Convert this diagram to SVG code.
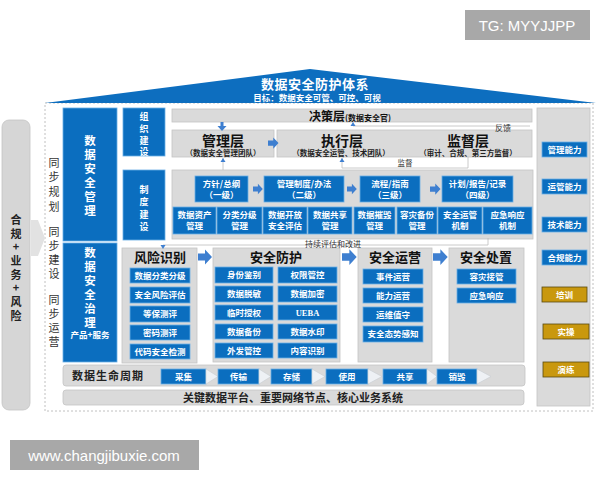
<svg xmlns="http://www.w3.org/2000/svg" width="600" height="480" viewBox="0 0 600 480">
<style>
text{font-family:"Noto Sans CJK SC","Liberation Sans",sans-serif;}
.b{fill:#0b6ebf;stroke:#6aaee6;stroke-width:0.8;}
.g{fill:#dadada;stroke:#c4c4c4;stroke-width:0.8;}
.gold{fill:#c9980e;stroke:#5a4a10;stroke-width:0.8;}
.w{fill:#fff;font-size:8.5px;font-weight:bold;text-anchor:middle;}
.wv{fill:#fff;font-size:11.5px;font-weight:bold;text-anchor:middle;}
.ws{fill:#fff;font-size:9px;font-weight:bold;text-anchor:middle;}
.h{fill:#111;font-size:13px;font-weight:bold;text-anchor:middle;}
.hl{fill:#111;font-size:14px;font-weight:bold;text-anchor:middle;}
.sub{fill:#222;font-size:7.5px;font-weight:bold;text-anchor:middle;}
.k{fill:#222;font-weight:bold;text-anchor:middle;}
.ba{fill:#3e7fd0;}
.thin{fill:none;stroke:#bdbdbd;stroke-width:0.8;}
.chev{fill:#eef1f5;stroke:#c8ccd2;stroke-width:0.6;}
</style>
<defs>
<path id="arr" d="M0,-3.5 H7 V-7.5 L14,0 L7,7.5 V3.5 H0 Z"/>
<path id="tri" d="M-2.5,2 L0,-2 L2.5,2 Z" fill="#3e7fd0"/>
</defs>
<rect width="600" height="480" fill="#fff"/>

<!-- watermarks -->
<g id="wm1"><rect x="465" y="10" width="125" height="30" fill="#a8a8a8"/><text x="527" y="31" fill="#fff" font-size="15" text-anchor="middle" style="font-family:'Liberation Sans',sans-serif">TG: MYYJJPP</text></g>
<g id="wm2"><rect x="10" y="440" width="189" height="30" fill="#a8a8a8"/><text x="104" y="461" fill="#fff" font-size="15" text-anchor="middle" style="font-family:'Liberation Sans',sans-serif">www.changjibuxie.com</text></g>

<!-- frame -->
<rect x="45" y="103" width="548" height="308" fill="none" stroke="#b0b0b0" stroke-width="0.8" stroke-dasharray="2,2"/>

<!-- roof -->
<g id="roof">
<polygon points="45,103 310,69 596,103" fill="#0d6ebf"/>
<text x="315" y="89" fill="#fff" font-size="13" font-weight="bold" text-anchor="middle" letter-spacing="0.5">数据安全防护体系</text>
<text x="317" y="101" fill="#fff" font-size="8.5" font-weight="bold" text-anchor="middle">目标：数据安全可管、可控、可视</text>
</g>

<!-- left compliance -->
<g id="compliance">
<rect x="2" y="120" width="28" height="290" rx="7" fill="#d6d6d6" stroke="#c4c4c4" stroke-width="0.8"/>
<text class="k" font-size="11" x="16"><tspan x="16" y="224">合</tspan><tspan x="16" y="238">规</tspan><tspan x="16" y="251">+</tspan><tspan x="16" y="265">业</tspan><tspan x="16" y="279">务</tspan><tspan x="16" y="292">+</tspan><tspan x="16" y="306">风</tspan><tspan x="16" y="320">险</tspan></text>
<polygon points="31,220 38,220 45,238 38,256 31,256" fill="#e2e2e2"/>
</g>

<!-- sync labels -->
<g id="sync" fill="#333" font-size="11">
<text x="54" text-anchor="middle"><tspan x="54" y="167">同</tspan><tspan x="54" y="181">步</tspan><tspan x="54" y="196">规</tspan><tspan x="54" y="211">划</tspan></text>
<text x="54" text-anchor="middle"><tspan x="54" y="236">同</tspan><tspan x="54" y="250">步</tspan><tspan x="54" y="264">建</tspan><tspan x="54" y="278">设</tspan></text>
<text x="54" text-anchor="middle"><tspan x="54" y="304">同</tspan><tspan x="54" y="318">步</tspan><tspan x="54" y="332">运</tspan><tspan x="54" y="346">营</tspan></text>
</g>

<!-- left blue columns -->
<g id="mgmt">
<rect class="b" x="63" y="108" width="54" height="133"/>
<text class="wv" x="90"><tspan x="90" y="145">数</tspan><tspan x="90" y="159">据</tspan><tspan x="90" y="173">安</tspan><tspan x="90" y="187">全</tspan><tspan x="90" y="201">管</tspan><tspan x="90" y="215">理</tspan></text>
</g>
<g id="gov">
<rect class="b" x="63" y="243" width="54" height="119"/>
<text class="wv" x="90"><tspan x="90" y="257">数</tspan><tspan x="90" y="271">据</tspan><tspan x="90" y="285">安</tspan><tspan x="90" y="299">全</tspan><tspan x="90" y="313">治</tspan><tspan x="90" y="327">理</tspan></text>
<text class="w" x="90" y="338">产品+服务</text>
</g>

<g id="org">
<rect class="b" x="123" y="108" width="42" height="48"/>
<text class="ws" x="144"><tspan x="144" y="120">组</tspan><tspan x="144" y="132">织</tspan><tspan x="144" y="144">建</tspan><tspan x="144" y="155">设</tspan></text>
</g>
<g id="sys">
<rect class="b" x="123" y="170" width="42" height="70"/>
<text class="ws" x="144"><tspan x="144" y="193">制</tspan><tspan x="144" y="205">度</tspan><tspan x="144" y="218">建</tspan><tspan x="144" y="230">设</tspan></text>
</g>

<!-- decision layers -->
<g id="decision">
<rect class="g" x="172" y="109" width="360" height="13"/>
<text x="350" y="120.5" text-anchor="middle" fill="#111" font-weight="bold"><tspan font-size="12">决策层</tspan><tspan font-size="8">(数据安全官)</tspan></text>
</g>
<g id="mgmtlayer">
<rect class="g" x="172" y="130" width="102" height="27"/>
<text class="hl" x="223" y="146">管理层</text>
<text class="sub" x="223" y="155.5">（数据安全管理团队）</text>
</g>
<g id="execlayer">
<rect class="g" x="277" y="130" width="255" height="27"/>
<text class="hl" x="342" y="146">执行层</text>
<text class="sub" x="341" y="155.5">（数据安全运管、技术团队）</text>
</g>
<g id="suplayer">
<text class="hl" x="468" y="146">监督层</text>
<text class="sub" x="468" y="155.5">（审计、合规、第三方监督）</text>
</g>

<!-- policy panel -->
<g id="policy">
<rect class="g" x="172" y="170" width="361" height="69"/>
<rect class="b" x="195" y="176" width="53" height="26"/>
<text class="w"><tspan x="221.5" y="187">方针/总纲</tspan><tspan x="221.5" y="198">（一级）</tspan></text>
<rect class="b" x="264" y="176" width="80" height="26"/>
<text class="w"><tspan x="304" y="187">管理制度/办法</tspan><tspan x="304" y="198">（二级）</tspan></text>
<rect class="b" x="360" y="176" width="60" height="26"/>
<text class="w"><tspan x="390" y="187">流程/指南</tspan><tspan x="390" y="198">（三级）</tspan></text>
<rect class="b" x="442" y="176" width="71" height="26"/>
<text class="w"><tspan x="477.5" y="187">计划/报告/记录</tspan><tspan x="477.5" y="198">（四级）</tspan></text>
<rect class="b" x="173" y="207" width="43" height="27"/>
<text class="w"><tspan x="194.5" y="218">数据资产</tspan><tspan x="194.5" y="229">管理</tspan></text>
<rect class="b" x="217" y="207" width="45" height="27"/>
<text class="w"><tspan x="239.5" y="218">分类分级</tspan><tspan x="239.5" y="229">管理</tspan></text>
<rect class="b" x="263" y="207" width="44" height="27"/>
<text class="w"><tspan x="285" y="218">数据开放</tspan><tspan x="285" y="229">安全评估</tspan></text>
<rect class="b" x="308" y="207" width="44" height="27"/>
<text class="w"><tspan x="330" y="218">数据共享</tspan><tspan x="330" y="229">管理</tspan></text>
<rect class="b" x="354" y="207" width="41" height="27"/>
<text class="w"><tspan x="374.5" y="218">数据摧毁</tspan><tspan x="374.5" y="229">管理</tspan></text>
<rect class="b" x="397" y="207" width="40" height="27"/>
<text class="w"><tspan x="417" y="218">容灾备份</tspan><tspan x="417" y="229">管理</tspan></text>
<rect class="b" x="438" y="207" width="44" height="27"/>
<text class="w"><tspan x="460" y="218">安全运管</tspan><tspan x="460" y="229">机制</tspan></text>
<rect class="b" x="483" y="207" width="49" height="27"/>
<text class="w"><tspan x="507.5" y="218">应急响应</tspan><tspan x="507.5" y="229">机制</tspan></text>
</g>

<!-- 风险识别 -->
<g id="risk">
<rect class="g" x="122" y="248" width="75" height="115"/>
<text class="h" x="160" y="262">风险识别</text>
<rect class="b" x="130" y="268" width="60" height="15"/><text class="w" x="160" y="279">数据分类分级</text>
<rect class="b" x="130" y="287" width="60" height="16"/><text class="w" x="160" y="298">安全风险评估</text>
<rect class="b" x="130" y="306" width="60" height="16"/><text class="w" x="160" y="317">等保测评</text>
<rect class="b" x="130" y="325" width="60" height="15"/><text class="w" x="160" y="336">密码测评</text>
<rect class="b" x="130" y="344" width="60" height="15"/><text class="w" x="160" y="355">代码安全检测</text>
</g>

<!-- 安全防护 -->
<g id="protect">
<rect class="g" x="213" y="248" width="127" height="114"/>
<text class="h" x="276" y="262">安全防护</text>
<rect class="b" x="215" y="267" width="58" height="16"/><text class="w" x="244" y="278">身份鉴别</text>
<rect class="b" x="278" y="267" width="59" height="16"/><text class="w" x="307.5" y="278">权限管控</text>
<rect class="b" x="215" y="286" width="58" height="16"/><text class="w" x="244" y="297">数据脱敏</text>
<rect class="b" x="278" y="286" width="59" height="16"/><text class="w" x="307.5" y="297">数据加密</text>
<rect class="b" x="215" y="305" width="58" height="15"/><text class="w" x="244" y="316">临时授权</text>
<rect class="b" x="278" y="305" width="59" height="15"/><text class="w" x="307.5" y="316" style="font-family:'Liberation Serif',serif">UEBA</text>
<rect class="b" x="215" y="324" width="58" height="15"/><text class="w" x="244" y="335">数据备份</text>
<rect class="b" x="278" y="324" width="59" height="15"/><text class="w" x="307.5" y="335">数据水印</text>
<rect class="b" x="215" y="343" width="58" height="15"/><text class="w" x="244" y="354">外发管控</text>
<rect class="b" x="278" y="343" width="59" height="15"/><text class="w" x="307.5" y="354">内容识别</text>
</g>

<!-- 安全运营 -->
<g id="ops">
<rect class="g" x="358" y="248" width="74" height="114"/>
<text class="h" x="395" y="262">安全运营</text>
<rect class="b" x="363" y="269" width="60" height="15"/><text class="w" x="393" y="280">事件运营</text>
<rect class="b" x="363" y="288" width="60" height="15"/><text class="w" x="393" y="299">能力运营</text>
<rect class="b" x="363" y="307" width="60" height="15"/><text class="w" x="393" y="318">运维值守</text>
<rect class="b" x="363" y="326" width="60" height="16"/><text class="w" x="393" y="337">安全态势感知</text>
</g>

<!-- 安全处置 -->
<g id="handle">
<rect class="g" x="449" y="248" width="75" height="114"/>
<text class="h" x="486" y="262">安全处置</text>
<rect class="b" x="457" y="269" width="59" height="15"/><text class="w" x="486.5" y="280">容灾接管</text>
<rect class="b" x="457" y="288" width="59" height="15"/><text class="w" x="486.5" y="299">应急响应</text>
</g>

<!-- lifecycle -->
<g id="lifecycle">
<rect class="g" x="63" y="365" width="462" height="21" rx="3"/>
<text x="72" y="380" fill="#222" font-size="11" font-weight="bold" letter-spacing="1">数据生命周期</text>
<rect class="b" x="161" y="369" width="45" height="15"/><text class="w" x="183.5" y="380">采集</text>
<polygon class="chev" points="206,369 218,376.5 206,384"/>
<rect class="b" x="218" y="369" width="41" height="15"/><text class="w" x="238.5" y="380">传输</text>
<polygon class="chev" points="259,369 271,376.5 259,384"/>
<rect class="b" x="271" y="369" width="41" height="15"/><text class="w" x="291.5" y="380">存储</text>
<polygon class="chev" points="312,369 325,376.5 312,384"/>
<rect class="b" x="326" y="369" width="42" height="15"/><text class="w" x="347" y="380">使用</text>
<polygon class="chev" points="368,369 382,376.5 368,384"/>
<rect class="b" x="383" y="369" width="44" height="15"/><text class="w" x="405" y="380">共享</text>
<polygon class="chev" points="427,369 437,376.5 427,384"/>
<rect class="b" x="437" y="369" width="40" height="15"/><text class="w" x="457" y="380">销毁</text>
<polygon class="chev" points="477,369 491,376.5 477,384"/>
</g>

<g id="platform">
<rect class="g" x="63" y="390" width="461" height="15" rx="3"/>
<text class="k" font-size="11" x="293" y="401.5">关键数据平台、重要网络节点、核心业务系统</text>
</g>

<!-- right capability column -->
<g id="capability">
<rect class="g" x="537" y="108" width="53" height="298"/>
<rect class="b" x="542" y="142" width="45" height="15"/><text class="w" x="564.5" y="153">管理能力</text>
<rect class="b" x="542" y="179" width="45" height="15"/><text class="w" x="564.5" y="190">运管能力</text>
<rect class="b" x="542" y="217" width="45" height="15"/><text class="w" x="564.5" y="228">技术能力</text>
<rect class="b" x="542" y="250" width="45" height="15"/><text class="w" x="564.5" y="261">合规能力</text>
<rect class="gold" x="542" y="287" width="45" height="15"/><text class="w" x="564.5" y="298">培训</text>
<rect class="gold" x="543" y="324" width="46" height="15"/><text class="w" x="566" y="335">实操</text>
<rect class="gold" x="543" y="362" width="46" height="15"/><text class="w" x="566" y="373">演练</text>
</g>

<!-- connectors -->
<g id="connectors">
<rect x="220.5" y="122" width="3" height="4" fill="#3e7fd0"/>
<polygon points="217.5,126 226.5,126 222,131" fill="#3e7fd0"/>
<use href="#arr" class="ba" transform="translate(268,143) scale(0.75)"/>
<polyline class="thin" points="353,124 353,126 530,126"/>
<use href="#tri" transform="translate(353,124)"/>
<text x="503" y="131" font-size="8" fill="#333" text-anchor="middle">反馈</text>
<polyline class="thin" points="342,158 342,168 468,168 468,157"/>
<use href="#tri" transform="translate(342,160)"/>
<text x="405" y="166" font-size="7.5" fill="#333" text-anchor="middle">监督</text>
<line class="thin" x1="223" y1="158" x2="223" y2="170"/>
<use href="#tri" transform="translate(223,160)"/>
<use href="#arr" class="ba" transform="translate(253,189) scale(0.7)"/>
<use href="#arr" class="ba" transform="translate(347,189) scale(0.7)"/>
<use href="#arr" class="ba" transform="translate(430,189) scale(0.75)"/>
<polyline class="thin" points="163,247 163,245 488,245 488,238"/>
<use href="#tri" transform="translate(163,247) rotate(180)"/>
<text x="333" y="246.5" font-size="8" fill="#333" text-anchor="middle">持续评估和改进</text>
<use href="#arr" class="ba" transform="translate(198,257)"/>
<use href="#arr" class="ba" transform="translate(342,257) scale(1.05)"/>
<use href="#arr" class="ba" transform="translate(433,257) scale(1.05)"/>
</g>
</svg>
